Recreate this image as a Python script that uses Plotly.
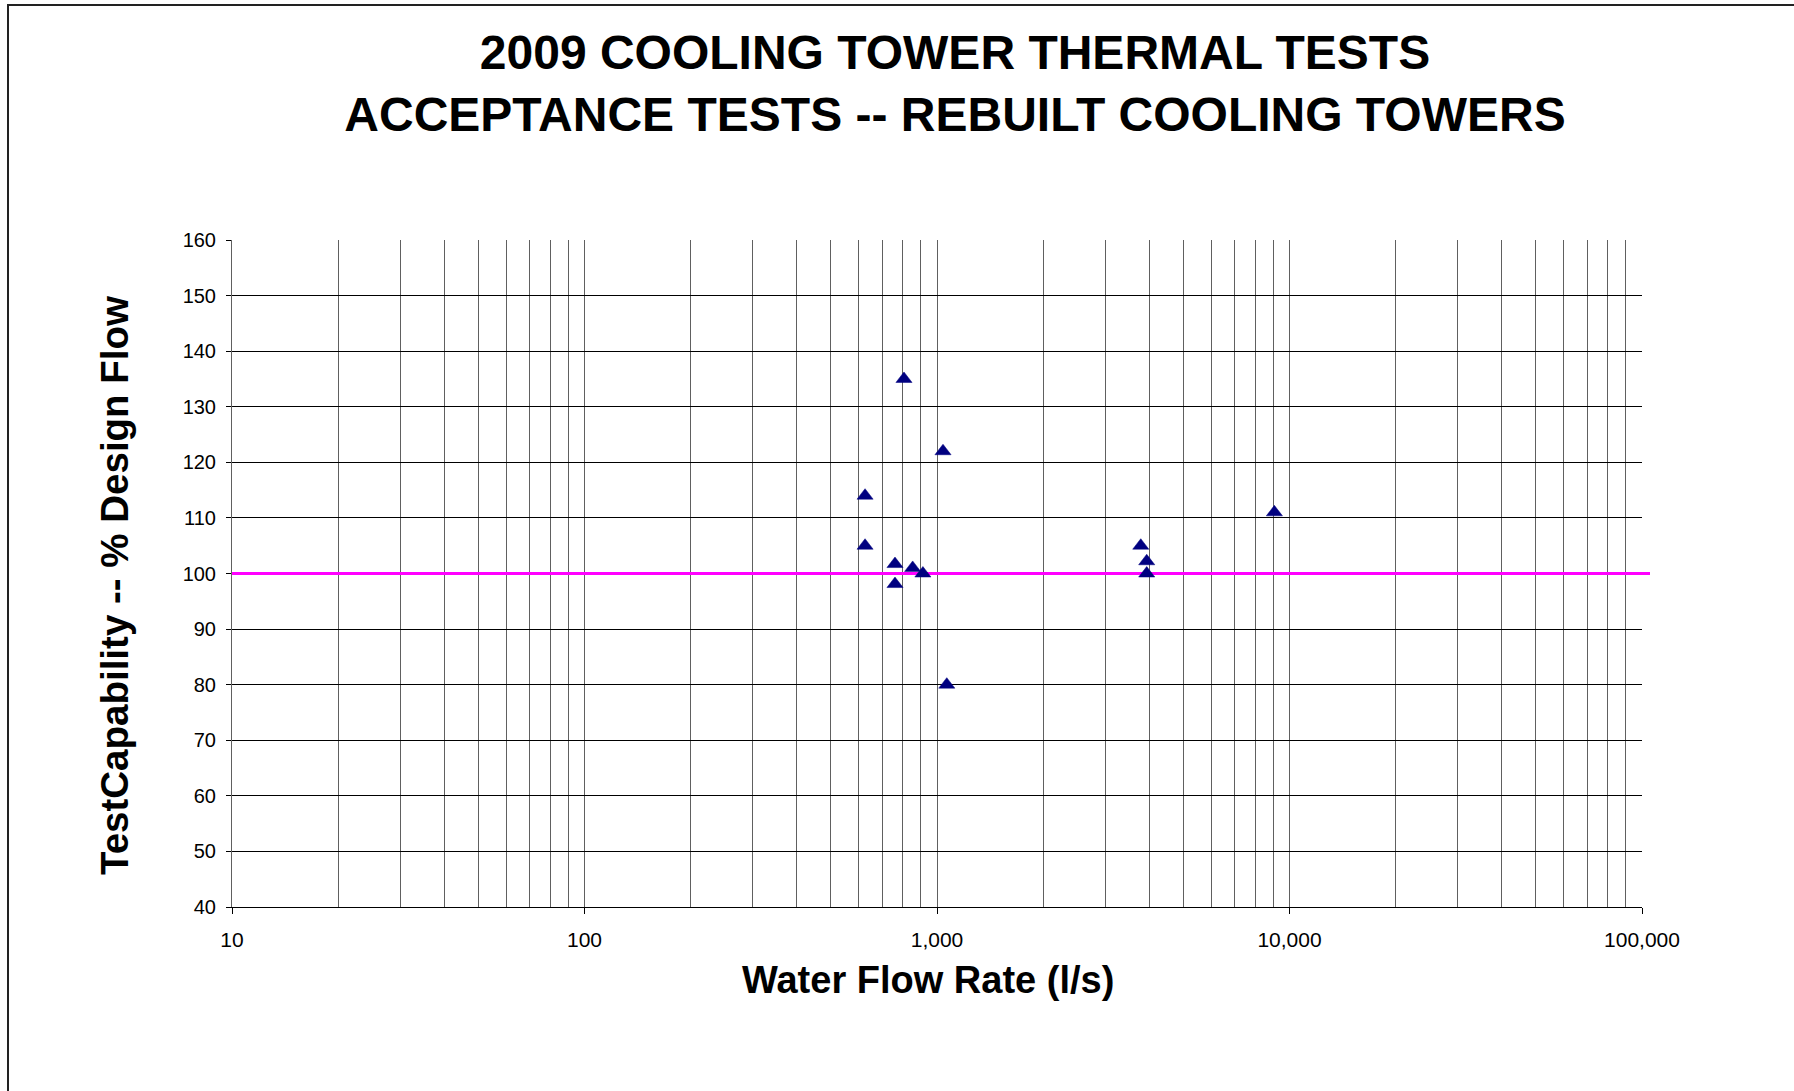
import plotly.graph_objects as go

# ---- data ----
flow_rate = [625, 625, 760, 760, 806, 853, 912, 1040, 1066, 3785, 3935, 3935, 9060]
capability = [114, 105, 101.7, 98.1, 135, 101, 100, 122, 80, 105, 102.2, 100, 111]
design_level = 100
design_line_x = [10, 100000]

x_tick_vals = [10, 100, 1000, 10000, 100000]
x_tick_text = ["10", "100", "1,000", "10,000", "100,000"]
y_tick_vals = [40, 50, 60, 70, 80, 90, 100, 110, 120, 130, 140, 150, 160]

title_lines = ["2009 COOLING TOWER THERMAL TESTS", "ACCEPTANCE TESTS -- REBUILT COOLING TOWERS"]
x_title = "Water Flow Rate (l/s)"
y_title = "TestCapability -- % Design Flow"

FONT = "Liberation Sans, Arial, sans-serif"
W, H = 1794, 1091
L, T = 232, 240
PW, PH = 1410, 667
R, B = W - L - PW, H - T - PH


def px_x(p):
    return (p - L) / PW


def px_y(p):
    return (T + PH - p) / PH


minor_vals = [m * 10 ** d for d in range(1, 5) for m in range(2, 10)]

fig = go.Figure()
# design flow reference line
fig.add_trace(go.Scatter(
    x=design_line_x, y=[design_level] * len(design_line_x), mode="lines",
    line=dict(color="#FF00FF", width=3), showlegend=False, hoverinfo="skip",
))
fig.add_trace(go.Scatter(
    x=flow_rate, y=capability, mode="markers",
    marker=dict(symbol="triangle-up", size=14, color="#000080",
                line=dict(width=0.5, color="#000080")),
    showlegend=False, cliponaxis=False,
))

# small overhang of the design line beyond the right edge of the plot
fig.add_shape(type="line", xref="paper", yref="y",
              x0=1, x1=1 + 8 / PW, y0=design_level, y1=design_level,
              line=dict(color="#FF00FF", width=3), layer="above")

# page frame (top and left edges visible)
fig.add_shape(type="rect", xref="paper", yref="paper",
              x0=px_x(8), x1=px_x(W + 100),
              y0=px_y(H + 100), y1=px_y(5),
              line=dict(color="#222222", width=2), fillcolor="rgba(0,0,0,0)",
              layer="above")

fig.update_layout(
    width=W, height=H,
    margin=dict(l=L, r=R, t=T, b=B),
    paper_bgcolor="white", plot_bgcolor="white",
    font=dict(family=FONT, color="black"),
    title=dict(
        text="<b>" + "<br>".join(title_lines) + "</b>",
        font=dict(family=FONT, size=48, color="black"),
        xref="container", x=955 / W, xanchor="center",
        yref="container", y=1 - 69 / H, yanchor="middle",
    ),
    annotations=[
        dict(text="<b>" + y_title + "</b>", textangle=-90,
             xref="paper", yref="paper", x=px_x(114), y=px_y(585),
             xanchor="center", yanchor="middle", showarrow=False,
             font=dict(size=38.5, family=FONT, color="black")),
        dict(text="<b>" + x_title + "</b>",
             xref="paper", yref="paper", x=px_x(928), y=px_y(980),
             xanchor="center", yanchor="middle", showarrow=False,
             font=dict(size=38, family=FONT, color="black")),
    ],
)

fig.update_xaxes(
    type="log", range=[1, 5],
    tickvals=x_tick_vals, ticktext=x_tick_text,
    tickfont=dict(size=21, family=FONT, color="black"),
    ticks="outside", ticklen=6, tickcolor="#000000", tickwidth=1,
    ticklabelstandoff=8,
    showline=True, linecolor="#000000", linewidth=1,
    showgrid=True, gridcolor="#606060", gridwidth=1,
    minor=dict(tickvals=minor_vals, showgrid=True, gridcolor="#606060", gridwidth=1, ticks=""),
    zeroline=False,
)
fig.update_yaxes(
    range=[40, 160], tickvals=y_tick_vals,
    tickfont=dict(size=20, family=FONT, color="black"),
    ticks="outside", ticklen=5, tickcolor="#000000", tickwidth=1,
    ticklabelstandoff=6,
    showline=True, linecolor="#606060", linewidth=1,
    showgrid=True, gridcolor="#000000", gridwidth=1,
    zeroline=False,
)

fig.write_html("out.html", config={"displayModeBar": False},
               post_script="document.body.style.margin='0';")
